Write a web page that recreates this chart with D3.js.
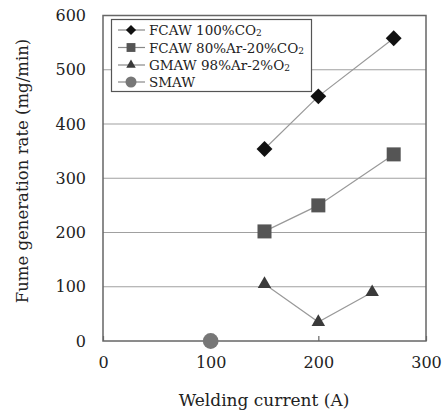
<!DOCTYPE html>
<html>
<head>
<meta charset="utf-8">
<script src="https://cdn.jsdelivr.net/npm/d3@7"></script>
<style>
  body { margin: 0; background: #fff; }
  text { font-family: "DejaVu Serif", "Liberation Serif", serif; fill: #222; }
</style>
</head>
<body>
<svg id="chart" width="446" height="414"></svg>
<script>
// Welding current (A) and fume generation rate (mg/min) per process
const fcawCO2Current = [150, 200, 270];
const fcawCO2Rate = [354, 451, 558];
const fcawArCurrent = [150, 200, 270];
const fcawArRate = [202, 250, 344];
const gmawCurrent = [150, 200, 250];
const gmawRate = [105, 35, 90];
const smawCurrent = [100];
const smawRate = [0];

const xTicks = [0, 100, 200, 300];
const yTicks = [0, 100, 200, 300, 400, 500, 600];

const seriesNames = [
  ["FCAW 100%CO", "2"],
  ["FCAW 80%Ar-20%CO", "2"],
  ["GMAW 98%Ar-2%O", "2"],
  ["SMAW", ""]
];

const svg = d3.select("#chart");
const m = { left: 103, right: 426, top: 15.5, bottom: 341 };

const x = d3.scaleLinear().domain([0, 300]).range([m.left, m.right]);
const y = d3.scaleLinear().domain([0, 600]).range([m.bottom, m.top]);

// horizontal gridlines
svg.append("g").selectAll("line").data(yTicks.filter(v => v > 0 && v < 600)).join("line")
  .attr("x1", m.left).attr("x2", m.right)
  .attr("y1", d => y(d)).attr("y2", d => y(d))
  .attr("stroke", "#a0a0a0").attr("stroke-width", 1.2);

// plot frame
svg.append("rect")
  .attr("x", m.left).attr("y", m.top)
  .attr("width", m.right - m.left).attr("height", m.bottom - m.top)
  .attr("fill", "none").attr("stroke", "#666").attr("stroke-width", 1.5);

// x axis: inward ticks, labels below
const xAxis = d3.axisBottom(x).tickValues(xTicks).tickSize(-5).tickPadding(16).tickFormat(d3.format("d"));
const gx = svg.append("g").attr("transform", `translate(0,${m.bottom})`).call(xAxis);
gx.select(".domain").remove();
gx.selectAll(".tick line").attr("stroke", "#666").attr("stroke-width", 1.2);
gx.selectAll("text").attr("font-size", 16).attr("font-family", "DejaVu Serif").attr("fill", "#222");

const yAxis = d3.axisLeft(y).tickValues(yTicks).tickSize(0).tickPadding(17).tickFormat(d3.format("d"));
const gy = svg.append("g").attr("transform", `translate(${m.left},0)`).call(yAxis);
gy.select(".domain").remove();
gy.selectAll("text").attr("font-size", 16).attr("font-family", "DejaVu Serif").attr("fill", "#222");

// axis titles
svg.append("text")
  .attr("x", 264).attr("y", 406)
  .attr("text-anchor", "middle").attr("font-size", 17)
  .text("Welding current (A)");
svg.append("text")
  .attr("transform", `translate(28,171) rotate(-90)`)
  .attr("text-anchor", "middle").attr("font-size", 16.5)
  .text("Fume generation rate (mg/min)");

// marker shapes
const sym = {
  diamond: d3.symbol().type(d3.symbolDiamond2),
  square: d3.symbol().type(d3.symbolSquare2),
  triangle: d3.symbol().type(d3.symbolTriangle2),
  circle: d3.symbol().type(d3.symbolCircle)
};

const series = [
  { xs: fcawCO2Current, ys: fcawCO2Rate, shape: "diamond", size: 160, color: "#111", legSize: 65 },
  { xs: fcawArCurrent, ys: fcawArRate, shape: "square", size: 250, color: "#555", legSize: 100 },
  { xs: gmawCurrent, ys: gmawRate, shape: "triangle", size: 130, color: "#3a3a3a", legSize: 65 },
  { xs: smawCurrent, ys: smawRate, shape: "circle", size: 195, color: "#777", legSize: 95 }
];

const line = d3.line().x(d => x(d[0])).y(d => y(d[1]));

series.forEach(s => {
  const pts = s.xs.map((v, i) => [v, s.ys[i]]);
  if (pts.length > 1) {
    svg.append("path").datum(pts).attr("d", line)
      .attr("fill", "none").attr("stroke", "#999").attr("stroke-width", 1.2);
  }
  svg.append("g").selectAll("path").data(pts).join("path")
    .attr("transform", d => `translate(${x(d[0])},${y(d[1])})`)
    .attr("d", sym[s.shape].size(s.size)())
    .attr("fill", s.color);
});

// legend
const leg = svg.append("g");
leg.append("rect").attr("x", 111.5).attr("y", 19.5).attr("width", 200).attr("height", 72)
  .attr("fill", "#fff").attr("stroke", "#555").attr("stroke-width", 1.2);
const legY = [30, 47.5, 65, 82];
series.forEach((s, i) => {
  const g = leg.append("g").attr("transform", `translate(0,${legY[i]})`);
  g.append("line").attr("x1", 118).attr("x2", 145).attr("y1", 0).attr("y2", 0)
    .attr("stroke", "#888").attr("stroke-width", 1.2);
  g.append("path").attr("transform", "translate(131,0)")
    .attr("d", sym[s.shape].size(s.legSize)()).attr("fill", s.color);
  const t = g.append("text").attr("x", 149).attr("y", 5).attr("font-size", 13.5);
  t.append("tspan").text(seriesNames[i][0]);
  if (seriesNames[i][1]) {
    t.append("tspan").attr("font-size", 9).attr("dy", 1).text(seriesNames[i][1]);
  }
});
</script>
</body>
</html>
